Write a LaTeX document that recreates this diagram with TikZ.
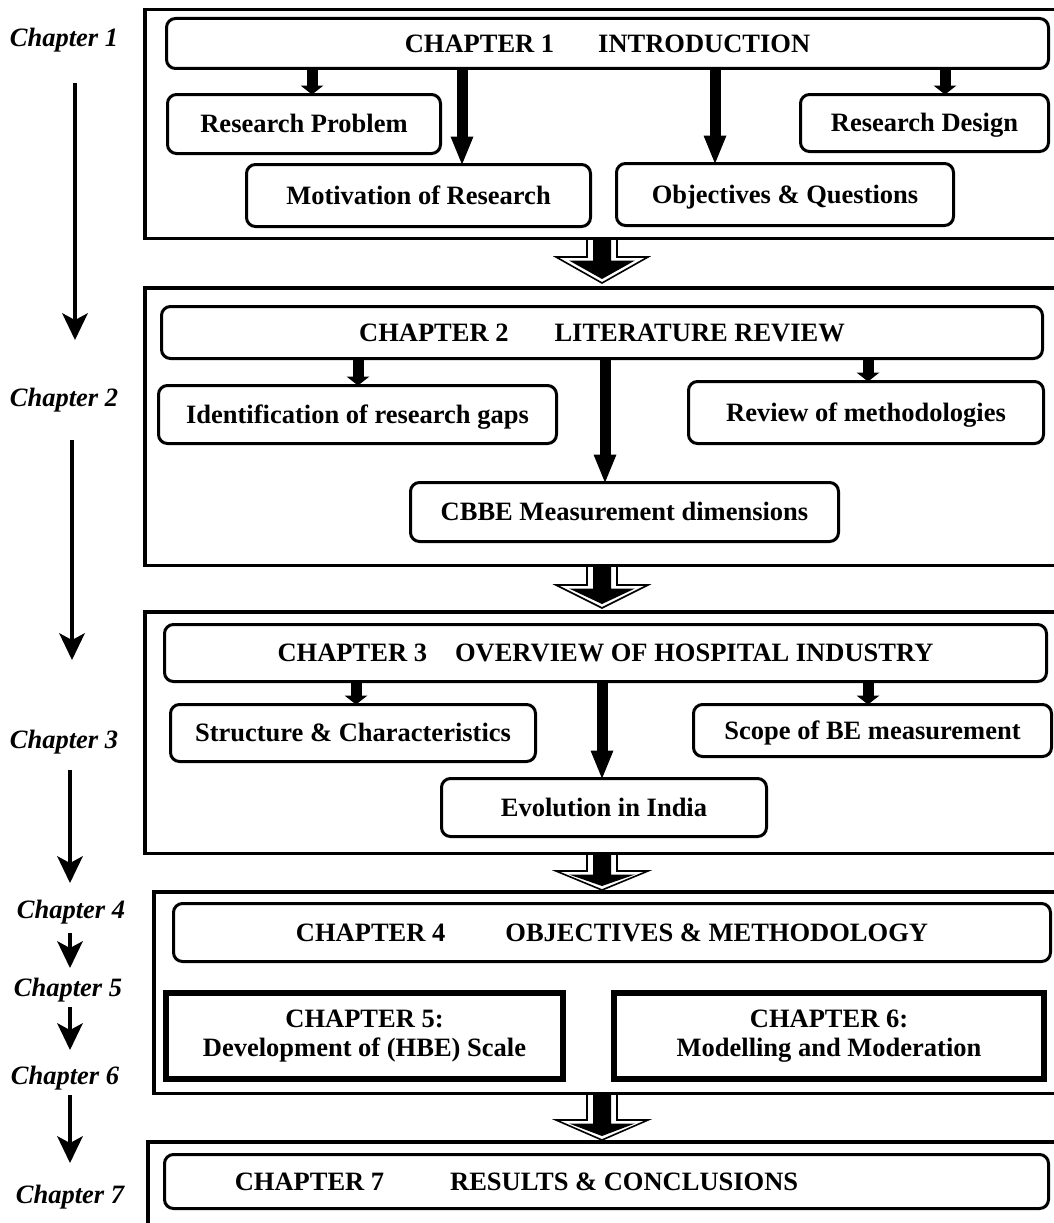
\documentclass[tikz,border=0pt]{standalone}
\usepackage{fontspec}
\setmainfont{Liberation Serif}
\usetikzlibrary{arrows.meta}

% hollow double-outlined block arrow pointing down, top centre at (#1,#2)
% #3 = y where the head starts, #4 = y of the tip
\newcommand\hollowdown[4]{%
  \fill[white,draw=black,line width=1.6pt,line join=miter]
    (#1-15,#2) -- (#1-15,#3) -- (#1-46,#3) -- (#1,#4) -- (#1+46,#3) -- (#1+15,#3) -- (#1+15,#2);
  \fill[black]
    (#1-9,#2) -- (#1-9,#3+3.5) -- (#1-33,#3+3.5) -- (#1,#4-4) -- (#1+33,#3+3.5) -- (#1+9,#3+3.5) -- (#1+9,#2) -- cycle;
}

\begin{document}
\begin{tikzpicture}[x=1pt,y=-1pt,
  every node/.style={inner sep=0pt,outer sep=0pt},
  txt/.style={font=\fontsize{26.5}{31}\selectfont\bfseries},
  side/.style={font=\fontsize{26.5}{31}\selectfont\bfseries\itshape},
  frame/.style={draw,line width=3.5pt},
  rbox/.style={draw,line width=3pt,rounded corners=9pt,txt,text height=17.5pt,text depth=0pt},
  thickbox/.style={draw,line width=6pt,txt,align=center},
  shortarrow/.style={line width=11pt,-{Triangle[width=23pt,length=9pt,line width=0pt]}},
  longarrow/.style={line width=11pt,-{Triangle[width=23pt,length=28pt,line width=0pt]}},
  flow/.style={line width=4.5pt,-{Stealth[width=26pt,length=27pt,inset=7pt,line width=0pt]}}
]
\useasboundingbox (0,0) rectangle (1054,1223);
\begin{scope}
\clip (0,0) rectangle (1054,1223);

% ---------- chapter frames ----------
\draw[frame] (144.75,9.75) rectangle (1080,238.25);
\draw[frame] (144.75,287.75) rectangle (1080,565.25);
\draw[frame] (144.75,611.75) rectangle (1080,853.25);
\draw[frame] (153.75,891.75) rectangle (1080,1093.25);
\draw[frame] (147.75,1141.75) rectangle (1080,1240);

% ---------- hollow arrows between chapters ----------
\hollowdown{602}{240}{257}{283}
\hollowdown{602}{567}{585}{608}
\hollowdown{602}{855}{871}{890}
\hollowdown{602}{1095}{1120}{1140}

% ---------- chapter 1 ----------
\node[rbox,minimum width=882pt,minimum height=50pt] (h1) at (607.5,43.5)
  {CHAPTER 1\hspace*{44pt}INTRODUCTION};
\node[rbox,minimum width=273pt,minimum height=59pt] (rp) at (304,124) {Research Problem};
\node[rbox,minimum width=344pt,minimum height=62pt] (mr) at (418.5,195.5) {Motivation of Research};
\node[rbox,minimum width=337pt,minimum height=62pt] (oq) at (785,194.5) {Objectives \& Questions};
\node[rbox,minimum width=248pt,minimum height=57pt] (rd) at (924.5,123) {Research Design};

\draw[shortarrow] (312,0 |- h1.south) -- (312,0 |- rp.north);
\draw[longarrow]  (462,0 |- h1.south) -- (462,0 |- mr.north);
\draw[longarrow]  (715,0 |- h1.south) -- (715,0 |- oq.north);
\draw[shortarrow] (945,0 |- h1.south) -- (945,0 |- rd.north);

% ---------- chapter 2 ----------
\node[rbox,minimum width=881pt,minimum height=52pt] (h2) at (602,332.5)
  {CHAPTER 2\hspace*{46pt}LITERATURE REVIEW};
\node[rbox,minimum width=398pt,minimum height=58pt] (ig) at (357.5,414.5) {Identification of research gaps};
\node[rbox,minimum width=428pt,minimum height=59pt] (cb) at (624.5,512) {CBBE Measurement dimensions};
\node[rbox,minimum width=355pt,minimum height=62pt] (rm) at (866,412.5) {Review of methodologies};

\draw[shortarrow] (358,0 |- h2.south) -- (358,0 |- ig.north);
\draw[longarrow]  (605,0 |- h2.south) -- (605,0 |- cb.north);
\draw[shortarrow] (868,0 |- h2.south) -- (868,0 |- rm.north);

% ---------- chapter 3 ----------
\node[rbox,minimum width=882pt,minimum height=57pt] (h3) at (605.5,653)
  {CHAPTER 3\hspace*{28pt}OVERVIEW OF HOSPITAL INDUSTRY};
\node[rbox,minimum width=365pt,minimum height=57pt] (sc) at (353,733) {Structure \& Characteristics};
\node[rbox,minimum width=325pt,minimum height=58pt] (ei) at (604,807.5) {Evolution in India};
\node[rbox,minimum width=358pt,minimum height=52pt] (sb) at (872.5,730.5) {Scope of BE measurement};

\draw[shortarrow] (356,0 |- h3.south) -- (356,0 |- sc.north);
\draw[longarrow]  (602,0 |- h3.south) -- (602,0 |- ei.north);
\draw[shortarrow] (868,0 |- h3.south) -- (868,0 |- sb.north);

% ---------- chapters 4 to 6 ----------
\node[rbox,minimum width=877pt,minimum height=58pt] (h4) at (612,932.5)
  {CHAPTER 4\hspace*{60pt}OBJECTIVES \& METHODOLOGY};
\node[thickbox,minimum width=397pt,minimum height=86pt] (c5) at (364.5,1036)
  {CHAPTER 5:\\[-2pt]Development of (HBE) Scale};
\node[thickbox,minimum width=430pt,minimum height=86pt] (c6) at (829,1036)
  {CHAPTER 6:\\[-2pt]Modelling and Moderation};

% ---------- chapter 7 (title set left of centre) ----------
\node[rbox,minimum width=884pt,minimum height=54pt] (h7) at (606.5,1181.5)
  {CHAPTER 7\hspace*{66pt}RESULTS \& CONCLUSIONS\hspace*{180pt}};
\end{scope}

% ---------- chapter sequence down the left margin ----------
\node[side] (l1) at (64,40)   {Chapter 1};
\node[side] (l2) at (64,400)  {Chapter 2};
\node[side] (l3) at (64,742)  {Chapter 3};
\node[side] (l4) at (71,912)  {Chapter 4};
\node[side] (l5) at (68,990)  {Chapter 5};
\node[side] (l6) at (65,1078) {Chapter 6};
\node[side] (l7) at (70,1197) {Chapter 7};

\coordinate (a1) at (75,83);   \coordinate (b1) at (75,340);
\coordinate (a2) at (72,440);  \coordinate (b2) at (72,660);
\coordinate (a3) at (70,770);  \coordinate (b3) at (70,883);
\coordinate (a4) at (70,933);  \coordinate (b4) at (70,968);
\coordinate (a5) at (70,1007); \coordinate (b5) at (70,1050);
\coordinate (a6) at (70,1095); \coordinate (b6) at (70,1163);
\draw[flow] (a1) -- (b1);
\draw[flow] (a2) -- (b2);
\draw[flow] (a3) -- (b3);
\draw[flow] (a4) -- (b4);
\draw[flow] (a5) -- (b5);
\draw[flow] (a6) -- (b6);
\end{tikzpicture}
\end{document}
